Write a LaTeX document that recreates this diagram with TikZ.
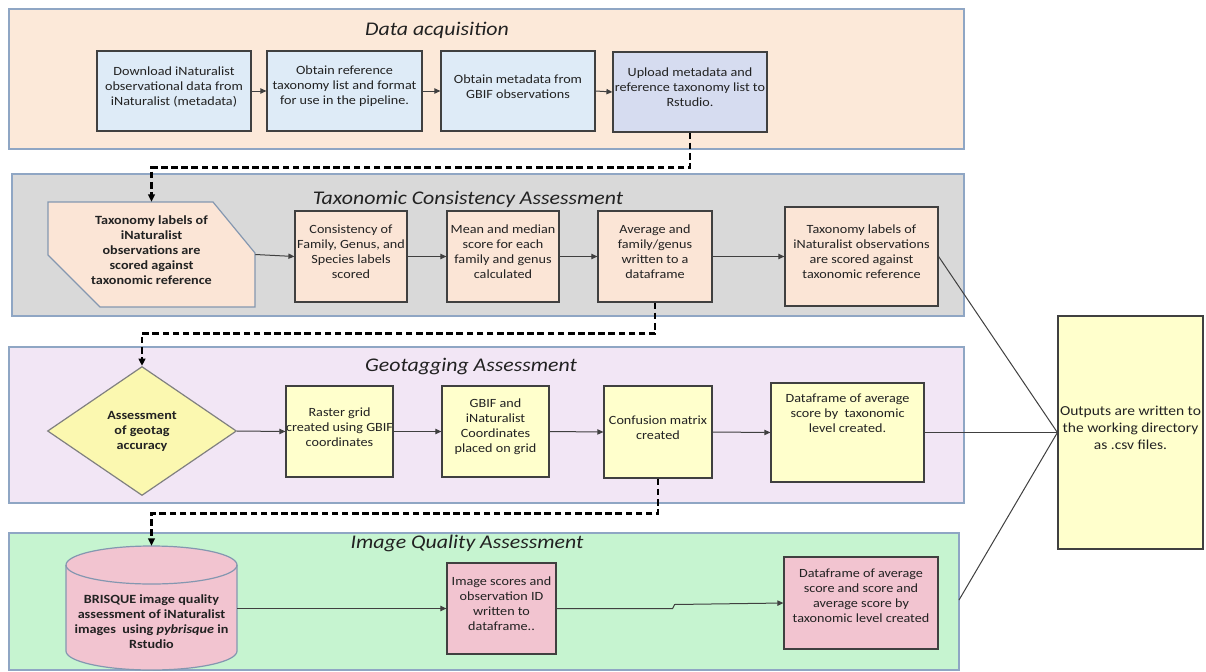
\documentclass[tikz,border=0pt]{standalone}
\usepackage{fontspec}
\setmainfont{Carlito}[FakeStretch=1.13]
\usetikzlibrary{arrows.meta,fit,shapes.geometric}
\definecolor{panb}{HTML}{8FA6C4}
\definecolor{boxb}{HTML}{404040}
\definecolor{arrc}{HTML}{404040}
\definecolor{txt}{HTML}{222222}
\definecolor{pana}{HTML}{FCE9D9}
\definecolor{panbg}{HTML}{D9D9D9}
\definecolor{panc}{HTML}{F2E6F5}
\definecolor{pand}{HTML}{C6F4D0}
\definecolor{bluebox}{HTML}{DEEBF7}
\definecolor{bluebox2}{HTML}{D6DCF0}
\definecolor{peach}{HTML}{FBE5D6}
\definecolor{yel}{HTML}{FFFFCC}
\definecolor{diac}{HTML}{FBF8B0}
\definecolor{diab}{HTML}{808080}
\definecolor{pinkc}{HTML}{F2C4D0}
\definecolor{cylb}{HTML}{8497B0}
\newcommand\bxfont{\fontsize{9.4}{11.25}\selectfont}
\newcommand\tlfont{\fontsize{14.5}{17}\selectfont}
\newcommand\otfont{\fontsize{10.3}{12.75}\selectfont}
\begin{document}
\begin{tikzpicture}[x=0.75pt,y=-0.75pt,
  panel/.style={draw=panb, line width=1.1pt, inner sep=0pt},
  box/.style={draw=boxb, line width=0.9pt, inner sep=0pt, align=center, font=\bxfont, text=txt},
  lbl/.style={inner sep=0pt, align=center, font=\bxfont, text=txt},
  arr/.style={draw=arrc, line width=0.75pt, -{Triangle[length=4.5pt,width=4pt]}},
  dashc/.style={draw=black, line width=1.8pt, dash pattern=on 5pt off 2.6pt, -{Triangle[length=5.5pt,width=5pt]}},
  plainl/.style={draw=arrc, line width=0.75pt},
  ttl/.style={font=\tlfont\itshape, anchor=base, text=txt, inner sep=0pt}]
\fill[white] (0,0) rectangle (1206,671);
\useasboundingbox (0,0) rectangle (1206,671);
% panels
\node[panel, fill=pana, fit={(9,9) (964,149)}] (pan1) {};
\node[panel, fill=panbg, fit={(12,174) (964,316)}] (pan2) {};
\node[panel, fill=panc, fit={(9,347) (964,503)}] (pan3) {};
\node[panel, fill=pand, fit={(9,533) (959,670)}] (pan4) {};
% titles
\node[ttl] (t1) at (437,36) {Data acquisition};
\node[ttl] (t2) at (468,204) {Taxonomic Consistency Assessment};
\node[ttl] (t3) at (471,371) {Geotagging Assessment};
\node[ttl] (t4) at (467,548) {Image Quality Assessment};
% row 1
\node[box, fill=bluebox, fit={(97,51) (251,131)}] (b1) {Download iNaturalist\\observational data from\\iNaturalist (metadata)};
\node[box, fill=bluebox, fit={(267,51) (422,131)}] (b2) {Obtain reference\\taxonomy list and format\\for use in the pipeline.};
\node[box, fill=bluebox, fit={(441,51) (595,131)}] (b3) {Obtain metadata from\\GBIF observations};
\node[box, fill=bluebox2, fit={(613,52) (767,132)}] (b4) {Upload metadata and\\reference taxonomy list to\\Rstudio.};
\draw[arr] (b1.east) -- (b2.west);
\draw[arr] (b2.east) -- (b3.west);
\draw[arr] (b3.east) -- (b4.west);
% row 2
\path[draw=cylb, line width=0.9pt, fill=peach] (48,202) -- (213,202) -- (255,253) -- (255,307) -- (100,307) -- (48,255) -- cycle;
\node[lbl, font=\bxfont\bfseries, fit={(48,202) (255,307)}] (t0) {Taxonomy labels of\\iNaturalist\\observations are\\scored against\\taxonomic reference};
\node[box, fill=peach, fit={(295,211) (407,302)}] (c1) {Consistency of\\Family, Genus, and\\Species labels\\scored};
\node[box, fill=peach, fit={(447,211) (559,302)}] (c2) {Mean and median\\score for each\\family and genus\\calculated};
\node[box, fill=peach, fit={(598,211) (712,302)}] (c3) {Average and\\family/genus\\written to a\\dataframe};
\node[box, fill=peach, fit={(785,207) (938,306)}] (c4) {Taxonomy labels of\\iNaturalist observations\\are scored against\\taxonomic reference};
\draw[arr] (t0.east) -- (c1.west);
\draw[arr] (c1.east) -- (c2.west);
\draw[arr] (c2.east) -- (c3.west);
\draw[arr] (c3.east) -- (c4.west);
% row 3
\node[draw=diab, fill=diac, line width=0.9pt, shape=diamond, minimum width=141.75pt, minimum height=96.75pt, inner sep=0pt, align=center, font=\bxfont\bfseries, text=txt] (d0) at (142,431) {Assessment\\of geotag\\accuracy};
\node[box, fill=yel, fit={(286,386) (393,477)}] (g1) {Raster grid\\created using GBIF\\coordinates};
\node[box, fill=yel, fit={(442,386) (549,477)}] (g2) {GBIF and\\iNaturalist\\Coordinates\\placed on grid};
\node[box, fill=yel, fit={(604,386) (712,478)}] (g3) {Confusion matrix\\created};
\node[box, fill=yel, fit={(771,383) (924,482)}] (g4) {};
\node[lbl] (g4t) at (847.5,413) {Dataframe of average\\score by\ \ taxonomic\\level created.};
\draw[arr] (d0.east) -- (g1.west);
\draw[arr] (g1.east) -- (g2.west);
\draw[arr] (g2.east) -- (g3.west);
\draw[arr] (g3.east) -- (g4.west);
% row 4
\path[draw=cylb, fill=pinkc, line width=0.9pt] (66,565) -- (66,651) arc[start angle=180, end angle=0, x radius=85.5, y radius=19] -- (237,565) arc[start angle=0, end angle=-180, x radius=85.5, y radius=19] -- cycle;
\draw[draw=cylb, line width=0.9pt] (66,565) arc[start angle=180, end angle=0, x radius=85.5, y radius=19];
\node[inner sep=0pt, fit={(66,546) (237,670)}] (i0) {};
\node[lbl, font=\bxfont\bfseries] (i0t) at (151.5,622) {BRISQUE image quality\\assessment of iNaturalist\\images\ \ using \textit{pybrisque} in\\Rstudio};
\node[box, fill=pinkc, fit={(447,563) (556,654)}] (i1) {Image scores and\\observation ID\\written to\\dataframe..};
\node[box, fill=pinkc, fit={(784,557) (938,649)}] (i2) {};
\node[lbl] (i2t) at (861,596) {Dataframe of average\\score and score and\\average score by\\taxonomic level created};
\draw[arr] (i0.east |- i1.west) -- (i1.west);
\draw[arr] (i1.east) -- ++(116,0) -- ++(2,-4) -- (i2.west);
% dashed connectors
\draw[dashc] (b4.south) -- ++(0,35) -| (t0.north);
\draw[dashc] (c3.south) -- ++(0,31) -| (d0.north);
\draw[dashc] (g3.south) -- ++(0,35) -| (i0.north);
% outputs
\node[box, fill=yel, font=\otfont, fit={(1058,316) (1203,549)}] (o) {Outputs are written to\\the working directory\\as .csv files.};
\coordinate (p4out) at (959,600);
\draw[plainl] (c4.east) -- (o.west);
\draw[plainl] (g4.east) -- (o.west);
\draw[plainl] (p4out) -- (o.west);
\end{tikzpicture}
\end{document}
